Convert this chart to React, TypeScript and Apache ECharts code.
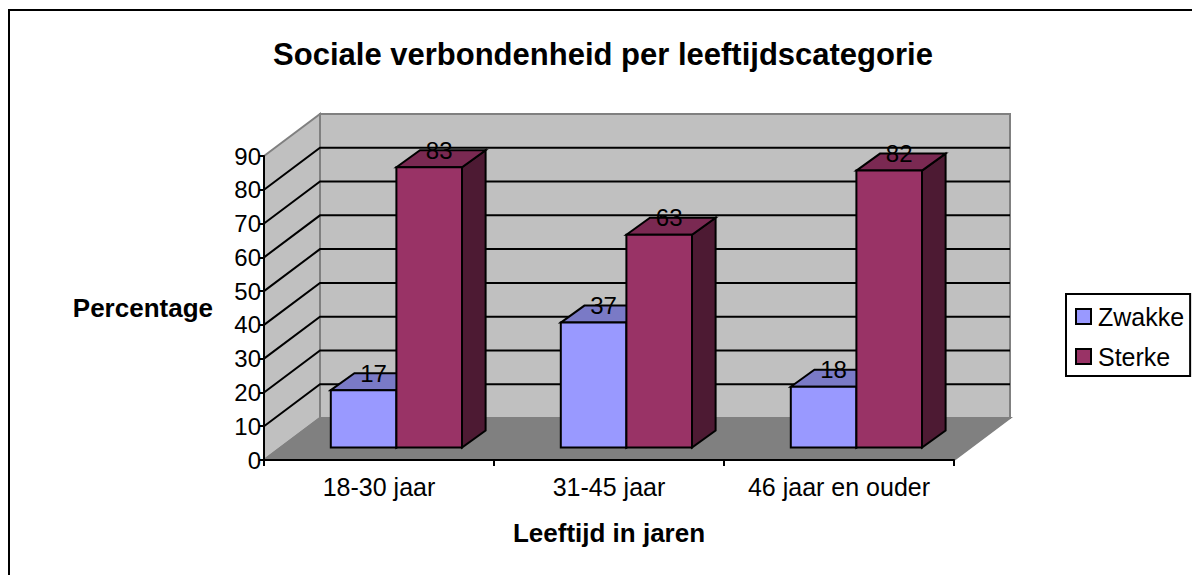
import React, { useEffect, useRef } from "react";
import * as echarts from "echarts";

const titleText = "Sociale verbondenheid per leeftijdscategorie";
const yAxisName = "Percentage";
const xAxisName = "Leeftijd in jaren";
const categories = ["18-30 jaar", "31-45 jaar", "46 jaar en ouder"];
const zwakke = [17, 37, 18];
const sterke = [83, 63, 82];
const yTicks = [0, 10, 20, 30, 40, 50, 60, 70, 80, 90];

const FONT = "'Liberation Sans', Arial, sans-serif";
const WALL_DX = 56;
const WALL_DY = -42;
const BAR_FRONT_DX = 17.4;
const BAR_FRONT_DY = -12.4;
const BAR_DX = 23.6;
const BAR_DY = -17;
const BAR_WIDTH = 65.6;
const LINE = 2;

function poly(points: number[][], fill: string, stroke: string, lineWidth: number) {
  return { type: "polygon", shape: { points }, style: { fill, stroke, lineWidth, lineJoin: "miter" } };
}

function wallsItem(params: any, api: any) {
  const v = api.value(1);
  const cs = params.coordSys;
  const y = api.coord([0, v])[1];
  const x0 = cs.x;
  const x1 = cs.x + cs.width;
  const children: any[] = [];
  if (v === 0) {
    const top = cs.y;
    const bot = cs.y + cs.height;
    children.push(
      poly([[x0 + WALL_DX, top + WALL_DY], [x1 + WALL_DX, top + WALL_DY], [x1 + WALL_DX, bot + WALL_DY], [x0 + WALL_DX, bot + WALL_DY]], "#C0C0C0", "#808080", 2),
      poly([[x0, top], [x0 + WALL_DX, top + WALL_DY], [x0 + WALL_DX, bot + WALL_DY], [x0, bot]], "#C0C0C0", "#808080", 2),
      poly([[x0, bot], [x0 + WALL_DX, bot + WALL_DY], [x1 + WALL_DX, bot + WALL_DY], [x1, bot]], "#808080", "#808080", 2)
    );
  } else if (v < 90) {
    children.push({
      type: "polyline",
      shape: { points: [[x0, y], [x0 + WALL_DX, y + WALL_DY], [x1 + WALL_DX, y + WALL_DY]] },
      style: { fill: "none", stroke: "#000", lineWidth: LINE },
    });
  }
  return { type: "group", children };
}

function barItem(offset: number, front: string, topC: string, side: string) {
  return (params: any, api: any) => {
    const cat = api.value(0);
    const val = api.value(1);
    const [cx, yTop] = api.coord([cat, val]);
    const yBot = api.coord([cat, 0])[1];
    const xl = cx + BAR_FRONT_DX + offset * BAR_WIDTH;
    const xr = xl + BAR_WIDTH;
    const t = yTop + BAR_FRONT_DY;
    const b = yBot + BAR_FRONT_DY;
    return {
      type: "group",
      children: [
        poly([[xr, t], [xr + BAR_DX, t + BAR_DY], [xr + BAR_DX, b + BAR_DY], [xr, b]], side, "#000", LINE),
        poly([[xl, t], [xl + BAR_DX, t + BAR_DY], [xr + BAR_DX, t + BAR_DY], [xr, t]], topC, "#000", LINE),
        poly([[xl, t], [xr, t], [xr, b], [xl, b]], front, "#000", LINE),
      ],
    };
  };
}

function labelItem(offset: number) {
  return (params: any, api: any) => {
    const cat = api.value(0);
    const val = api.value(1);
    const [cx, yTop] = api.coord([cat, val]);
    return {
      type: "text",
      style: {
        text: String(val),
        x: cx + BAR_FRONT_DX + offset * BAR_WIDTH + BAR_WIDTH / 2 + 10,
        y: yTop + BAR_FRONT_DY + BAR_DY,
        align: "center",
        verticalAlign: "middle",
        fontFamily: FONT,
        fontSize: 24,
        fill: "#000",
      },
    };
  };
}

export default function App() {
  const ref = useRef<HTMLDivElement>(null);
  useEffect(() => {
    const chart = echarts.init(ref.current!, null, { renderer: "svg" });
    chart.setOption({
      animation: false,
      backgroundColor: "#fff",
      title: {
        text: titleText,
        left: 598,
        top: 34,
        textAlign: "center",
        textStyle: { fontFamily: FONT, fontWeight: "bold", fontSize: 31, color: "#000" },
      },
      grid: { left: 264, top: 156, width: 690, height: 304, containLabel: false },
      legend: {
        data: ["Zwakke", "Sterke"],
        orient: "vertical",
        left: 1066,
        top: 294,
        padding: [10, 6, 7, 9],
        itemGap: 15,
        itemWidth: 15,
        itemHeight: 15,
        icon: "rect",
        borderColor: "#000",
        borderWidth: 2,
        backgroundColor: "#fff",
        selectedMode: false,
        textStyle: { fontFamily: FONT, fontSize: 25, color: "#000", padding: [0, 0, 0, 2] },
      },
      xAxis: {
        type: "category",
        data: categories,
        boundaryGap: true,
        name: xAxisName,
        nameLocation: "middle",
        nameGap: 60,
        nameTextStyle: { fontFamily: FONT, fontWeight: "bold", fontSize: 26, color: "#000" },
        axisLine: { lineStyle: { color: "#000", width: 2 } },
        axisTick: { show: true, length: 6, interval: 0, alignWithLabel: false, lineStyle: { color: "#000", width: 2 } },
        axisLabel: { fontFamily: FONT, fontSize: 25, color: "#000", margin: 14, interval: 0, hideOverlap: false },
        z: 10,
      },
      yAxis: {
        type: "value",
        min: 0,
        max: 90,
        interval: 10,
        name: yAxisName,
        nameLocation: "middle",
        nameRotate: 0,
        nameGap: 51,
        nameTextStyle: { fontFamily: FONT, fontWeight: "bold", fontSize: 26, color: "#000", padding: [4, 0, 0, 0] },
        axisLine: { show: true, lineStyle: { color: "#000", width: 2 } },
        axisTick: { show: true, length: 5, lineStyle: { color: "#000", width: 2 } },
        axisLabel: { fontFamily: FONT, fontSize: 24, color: "#000", margin: 3 },
        splitLine: { show: false },
        z: 10,
      },
      graphic: [
        {
          type: "rect",
          shape: { x: 9, y: 10, width: 1300, height: 700 },
          style: { fill: "none", stroke: "#000", lineWidth: 2 },
          silent: true,
          z: -10,
        },
      ],
      series: [
        {
          name: "walls",
          type: "custom",
          z: 1,
          renderItem: wallsItem,
          data: yTicks.map((v) => [0, v]),
          encode: { x: 0, y: 1 },
          silent: true,
        },
        {
          name: "Zwakke",
          type: "custom",
          z: 2,
          itemStyle: { color: "#9999FF", borderColor: "#000", borderWidth: 2 },
          renderItem: barItem(-1, "#9999FF", "#7A7AC6", "#4D4D80"),
          data: zwakke.map((v, i) => [i, v]),
          encode: { x: 0, y: 1 },
        },
        {
          name: "Sterke",
          type: "custom",
          z: 3,
          itemStyle: { color: "#993366", borderColor: "#000", borderWidth: 2 },
          renderItem: barItem(0, "#993366", "#7A2952", "#4D1A33"),
          data: sterke.map((v, i) => [i, v]),
          encode: { x: 0, y: 1 },
        },
        {
          name: "labelsZwakke",
          type: "custom",
          z: 5,
          renderItem: labelItem(-1),
          data: zwakke.map((v, i) => [i, v]),
          encode: { x: 0, y: 1 },
          silent: true,
        },
        {
          name: "labelsSterke",
          type: "custom",
          z: 5,
          renderItem: labelItem(0),
          data: sterke.map((v, i) => [i, v]),
          encode: { x: 0, y: 1 },
          silent: true,
        },
      ],
    });
    return () => chart.dispose();
  }, []);
  return <div ref={ref} style={{ position: "absolute", left: 0, top: 0, width: 1192, height: 575 }} />;
}
